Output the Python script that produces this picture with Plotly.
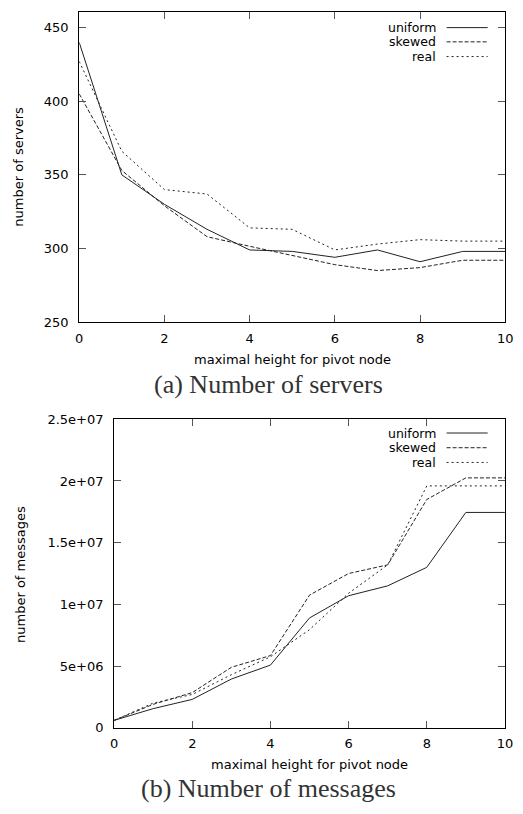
import plotly.graph_objects as go

# ---------------- data ----------------
heights = [0, 1, 2, 3, 4, 5, 6, 7, 8, 9, 10]

servers_uniform = [440, 350, 330, 313, 299, 298, 294, 299, 291, 298, 298]
servers_skewed = [405, 353, 329, 308, 301.5, 295, 289, 285, 287, 292, 292]
servers_real = [427, 366, 340, 337, 314, 313, 299, 303, 306, 305, 305]

messages_uniform = [0.6e6, 1.55e6, 2.3e6, 3.95e6, 5.08e6, 8.9e6, 10.7e6, 11.5e6, 13.0e6, 17.45e6, 17.45e6]
messages_skewed = [0.6e6, 1.9e6, 2.85e6, 4.9e6, 5.85e6, 10.75e6, 12.5e6, 13.2e6, 18.5e6, 20.25e6, 20.25e6]
messages_real = [0.6e6, 2.0e6, 2.7e6, 4.3e6, 5.75e6, 7.95e6, 10.9e6, 13.2e6, 19.6e6, 19.6e6, 19.6e6]

series_names = ["uniform", "skewed", "real"]

x_tick_vals = [0, 2, 4, 6, 8, 10]
x_tick_text = ["0", "2", "4", "6", "8", "10"]
servers_tick_vals = [250, 300, 350, 400, 450]
servers_tick_text = ["250", "300", "350", "400", "450"]
messages_tick_vals = [0, 5e6, 1e7, 1.5e7, 2e7, 2.5e7]
messages_tick_text = ["0", "5e+06", "1e+07", "1.5e+07", "2e+07", "2.5e+07"]

x_title = "maximal height for pivot node"
servers_title = "number of servers"
messages_title = "number of messages"
caption_a = "(a) Number of servers"
caption_b = "(b) Number of messages"

# ---------------- style ----------------
W, H = 523, 814
SANS = "DejaVu Sans, Verdana, sans-serif"
SERIF = "Liberation Serif, Times New Roman, serif"
LINE_COLOR = "#222222"
dashes = ["solid", "4px,2px", "2px,3px"]


def px_x(p):
    return p / W


def px_y(p):
    return 1 - p / H


fig = go.Figure()

for name, ys, d in zip(series_names, [servers_uniform, servers_skewed, servers_real], dashes):
    fig.add_trace(go.Scatter(x=heights, y=ys, mode="lines", name=name,
                             line=dict(color=LINE_COLOR, width=1, dash=d),
                             xaxis="x", yaxis="y", showlegend=False))

for name, ys, d in zip(series_names, [messages_uniform, messages_skewed, messages_real], dashes):
    fig.add_trace(go.Scatter(x=heights, y=ys, mode="lines", name=name,
                             line=dict(color=LINE_COLOR, width=1, dash=d),
                             xaxis="x2", yaxis="y2", showlegend=False))

axis_common = dict(showgrid=False, zeroline=False, showline=True, linecolor="#000000",
                   linewidth=1, mirror="ticks", ticks="inside", ticklen=7,
                   tickcolor="#555555", tickwidth=1,
                   tickfont=dict(family=SANS, size=13, color="#000000"))

fig.update_layout(
    width=W, height=H,
    margin=dict(l=0, r=0, t=0, b=0),
    paper_bgcolor="white", plot_bgcolor="white",
    showlegend=False,
    xaxis=dict(domain=[px_x(77), px_x(513)], range=[0, 10], anchor="y",
               tickvals=x_tick_vals, ticktext=x_tick_text, ticklabelstandoff=4, **axis_common),
    yaxis=dict(domain=[px_y(321), px_y(5)], range=[250, 460.7], anchor="x",
               tickvals=servers_tick_vals, ticktext=servers_tick_text, ticklabelstandoff=7, **axis_common),
    xaxis2=dict(domain=[px_x(112.7), px_x(512.7)], range=[0, 10], anchor="y2",
                tickvals=x_tick_vals, ticktext=x_tick_text, ticklabelstandoff=4, **axis_common),
    yaxis2=dict(domain=[px_y(734.3), px_y(420)], range=[0, 2.5e7], anchor="x2",
                tickvals=messages_tick_vals, ticktext=messages_tick_text, ticklabelstandoff=7, **axis_common),
)

annotations = []
# axis titles
for cx, cy, t in [(295, 359, x_title), (313, 772, x_title)]:
    annotations.append(dict(x=px_x(cx), y=px_y(cy), xref="paper", yref="paper", text=t,
                            showarrow=False, xanchor="center", yanchor="middle",
                            font=dict(family=SANS, size=13, color="#000000")))
for cx, cy, t in [(15, 163, servers_title), (17, 578, messages_title)]:
    annotations.append(dict(x=px_x(cx), y=px_y(cy), xref="paper", yref="paper", text=t,
                            showarrow=False, xanchor="center", yanchor="middle", textangle=-90,
                            font=dict(family=SANS, size=13, color="#000000")))
# captions
for cx, cy, t in [(271, 385, caption_a), (271, 796, caption_b)]:
    annotations.append(dict(x=px_x(cx), y=px_y(cy), xref="paper", yref="paper", text=t,
                            showarrow=False, xanchor="center", yanchor="middle",
                            font=dict(family=SERIF, size=26, color="#333333")))

# gnuplot-style legends (text right-aligned, sample line to the right)
shapes = []
for rows in [[21, 35.5, 50.5], [434, 449, 464]]:
    for name, ry, d in zip(series_names, rows, dashes):
        annotations.append(dict(x=px_x(444), y=px_y(ry), xref="paper", yref="paper", text=name,
                                showarrow=False, xanchor="right", yanchor="middle",
                                font=dict(family=SANS, size=12.5, color="#000000")))
        shapes.append(dict(type="line", xref="paper", yref="paper",
                           x0=px_x(453), x1=px_x(495), y0=px_y(ry), y1=px_y(ry),
                           line=dict(color=LINE_COLOR, width=1, dash=d)))

fig.update_layout(annotations=annotations, shapes=shapes)

fig.write_html("out.html")
